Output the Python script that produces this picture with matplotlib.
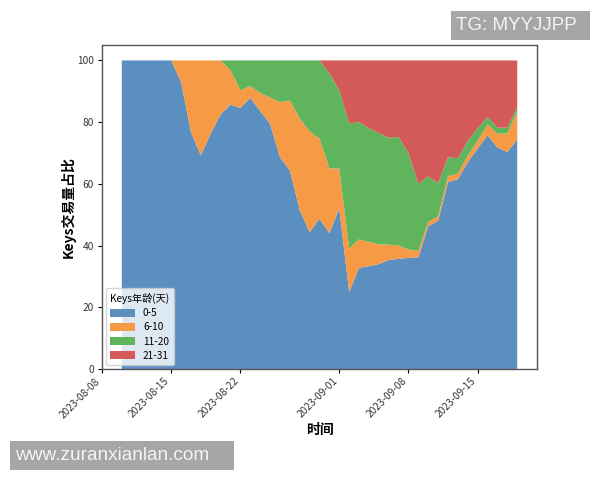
#!/usr/bin/env python3
"""
Keys trading volume share by key age
"""
import matplotlib
matplotlib.use('Agg')
import matplotlib.pyplot as plt
import pandas as pd

plt.rcParams['font.family'] = ['Noto Sans CJK SC', 'DejaVu Sans']

dates = pd.date_range('2023-08-10', '2023-09-19', freq='D')
tick_dates = ['2023-08-08', '2023-08-15', '2023-08-22', '2023-09-01', '2023-09-08', '2023-09-15']
age_labels = ['0-5', '6-10', '11-20', '21-31']
age_colors = ['#5b8fc0', '#f79a46', '#5fb45c', '#d35a58']

share_0_5 = [100, 100, 100, 100, 100, 100, 93, 76.8, 69.2, 76.3, 82.5, 85.7, 84.6, 87.9,
             83.6, 79.5, 68.6, 64.4, 51.5, 44.3, 48.7, 44, 52, 25, 32.8, 33.3, 34, 35.3,
             35.7, 36, 36.2, 46.3, 48, 60.6, 61.5, 67, 71.5, 75.7, 71.8, 70.3, 74.4]
share_6_10 = [0, 0, 0, 0, 0, 0, 7, 23.2, 30.8, 23.7, 17.5, 11.1, 5.7, 3.8,
              5.8, 8.5, 17.9, 22.6, 29.7, 32.7, 26, 21, 13, 14, 9.2, 7.9, 6.4, 5,
              4.3, 2.7, 2.1, 1.4, 1.5, 1.9, 1.9, 2.2, 2.5, 3.6, 4.5, 6, 8.9]
share_11_20 = [0, 0, 0, 0, 0, 0, 0, 0, 0, 0, 0, 3.2, 9.7, 8.3,
               10.6, 12, 13.5, 13, 18.8, 23, 25.3, 30.8, 25.3, 40.6, 38, 36.8, 36.1, 34.6,
               35.2, 31.3, 21.7, 14.7, 10.8, 6.1, 4.9, 4.8, 4, 2.4, 1.9, 1.9, 1.6]
share_21_31 = [0, 0, 0, 0, 0, 0, 0, 0, 0, 0, 0, 0, 0, 0,
               0, 0, 0, 0, 0, 0, 0, 4.2, 9.7, 20.4, 20, 22, 23.5, 25.1,
               24.8, 30, 40, 37.6, 39.7, 31.4, 31.7, 26, 22, 18.3, 21.8, 21.8, 15.1]

fig = plt.figure(figsize=(6, 4.8), dpi=100)
ax = fig.add_axes([102 / 600, 1 - 369 / 480, 435 / 600, 324 / 480])

ax.stackplot(dates, share_0_5, share_6_10, share_11_20, share_21_31,
             labels=age_labels, colors=age_colors, linewidth=0)

ax.set_xlim(pd.Timestamp('2023-08-08'), pd.Timestamp('2023-09-21'))
ax.set_ylim(0, 105)
ax.set_xticks(pd.to_datetime(tick_dates))
ax.set_xticklabels(tick_dates, rotation=45, ha='right', fontsize=7.3, color='#333333')
ax.set_yticks([0, 20, 40, 60, 80, 100])
ax.tick_params(axis='y', labelsize=7.3, labelcolor='#333333', length=3, width=0.8, pad=3)
ax.tick_params(axis='x', length=3, width=0.8, pad=2)
for spine in ax.spines.values():
    spine.set_color('#555555')
    spine.set_linewidth(1.0)

ax.set_xlabel('时间', fontsize=10, fontweight='bold', labelpad=2)
ax.set_ylabel('Keys交易量占比', fontsize=10, fontweight='bold', labelpad=1)

legend = ax.legend(title='Keys年龄(天)', loc='lower left', fontsize=7.3, title_fontsize=7.3,
                   framealpha=0.8, borderaxespad=0.35, labelspacing=0.42, handlelength=2.4,
                   handleheight=0.85, borderpad=0.45)

# Watermark boxes
fig.add_artist(plt.Rectangle((451 / 600, 1 - 40 / 480), 139 / 600, 29 / 480,
                             transform=fig.transFigure, facecolor='#a6a6a6', edgecolor='none'))
fig.text(456 / 600, 1 - 26 / 480, 'TG: MYYJJPP', fontsize=13.5, color='#f4f4f4',
         family='Liberation Sans', va='center', ha='left')
fig.add_artist(plt.Rectangle((10 / 600, 1 - 470 / 480), 224 / 600, 29 / 480,
                             transform=fig.transFigure, facecolor='#a6a6a6', edgecolor='none'))
fig.text(15 / 600, 1 - 456 / 480, 'www.zuranxianlan.com', fontsize=13.7, color='#f4f4f4',
         family='Liberation Sans', va='center', ha='left')

plt.savefig('out.png', dpi=100)
